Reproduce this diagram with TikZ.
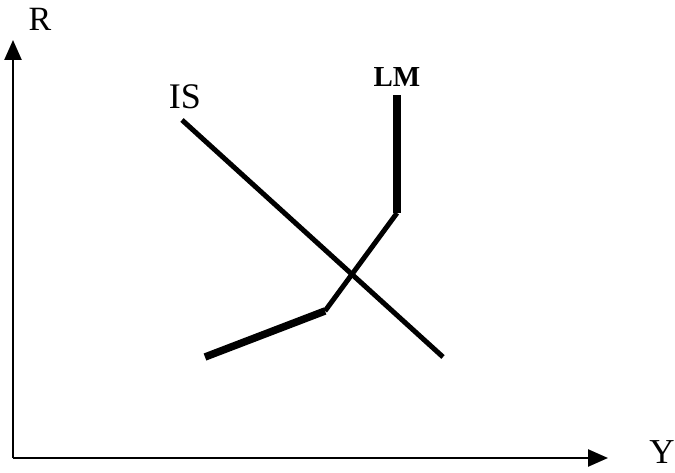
\documentclass[tikz,border=0pt]{standalone}
\usepackage{fontspec}
\setmainfont{Liberation Serif}
\usetikzlibrary{arrows.meta}
\begin{document}
\begin{tikzpicture}[x=1pt,y=-1pt,
  axis/.style={line width=2.5pt,-{Triangle[length=20pt,width=17pt]}},
  curve/.style={line width=5pt},
  thickcurve/.style={line width=7.5pt},
  lbl/.style={inner sep=0pt,font=\fontsize{34}{34}\selectfont}]
\useasboundingbox (0,0) rectangle (675,473);
\coordinate (O) at (13,458);
\coordinate (Rtop) at (13,40);
\coordinate (Yend) at (608,458);
\draw[axis] (O) -- (Rtop);
\draw[axis] (O) -- (Yend);
\node[lbl] (R) at (40,19) {R};
\node[lbl,font=\fontsize{35}{35}\selectfont] (Y) at (662,452) {Y};
\node[lbl,font=\fontsize{36}{36}\selectfont] (IS) at (185,97) {IS};
\node[lbl,font=\fontsize{29}{29}\selectfont\bfseries] (LM) at (397,77) {LM};
\coordinate (is1) at (182,120);
\coordinate (is2) at (443,357);
\draw[curve] (is1) -- (is2);
\coordinate (lm0) at (205,357);
\coordinate (lm1) at (325,311);
\coordinate (lm2) at (397,213);
\coordinate (lm3) at (397,95);
\draw[thickcurve] (lm0) -- (lm1);
\draw[curve] (lm1) -- (lm2);
\draw[thickcurve] (lm2) -- (lm3);
\end{tikzpicture}
\end{document}
